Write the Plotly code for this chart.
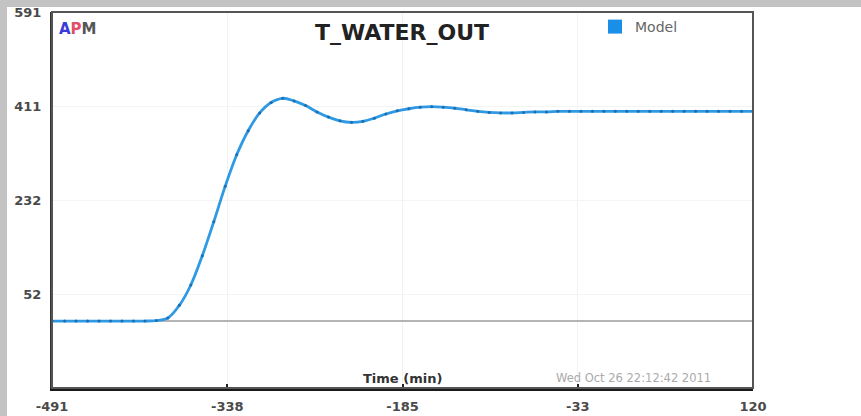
import plotly.graph_objects as go

# ---- data ----
time_min = [-491, -480, -470, -460, -450, -440, -430, -420, -410, -400,
            -390, -380, -370, -360, -350, -340, -330, -320, -310, -300,
            -290, -280, -270, -260, -250, -240, -230, -220, -210, -200,
            -190, -180, -170, -160, -150, -140, -130, -120, -110, -100,
            -90, -80, -70, -60, -50, -40, -30, -20, -10, 0,
            10, 20, 30, 40, 50, 60, 70, 80, 90, 100, 110, 120]
model = [0, 0, 0, 0, 0, 0, 0, 0, 0, 1,
         6, 30, 69, 125, 190, 258, 318, 364, 398, 418,
         426, 421, 412, 400, 390, 383, 380, 382, 388, 396,
         402, 406, 409, 410, 409, 407, 404, 401, 399, 398,
         398, 399, 400, 400, 401, 401, 401, 401, 401, 401,
         401, 401, 401, 401, 401, 401, 401, 401, 401, 401, 401, 401]

x_tickvals = [-491, -338.25, -185.5, -32.75, 120]
x_ticktext = ["-491", "-338", "-185", "-33", "120"]
y_tickvals = [51.75, 231.5, 411.25, 591]
y_ticktext = ["52", "232", "411", "591"]
x_range = [-491, 120]
y_range = [-128, 591]

title_text = "T_WATER_OUT"
series_name = "Model"
x_title = "Time (min)"
stamp = "Wed Oct 26 22:12:42 2011"

FONT = "DejaVu Sans, Verdana, sans-serif"
W, H = 861, 416
ML, MR, MT, MB = 52, 108, 12, 28
PW, PH = W - ML - MR, H - MT - MB


def px2x(px):
    return (px - ML) / PW


def py2y(py):
    return (H - MB - py) / PH


fig = go.Figure()
fig.add_trace(go.Scatter(
    x=time_min, y=model, mode="lines+markers", line_shape="spline",
    line=dict(color="#2e9ae4", width=2.8),
    marker=dict(size=3, color="#1f6cb0"),
    showlegend=False, hoverinfo="x+y"))
fig.add_trace(go.Scatter(
    x=[None], y=[None], mode="markers", name=series_name,
    marker=dict(symbol="square", size=14, color="#1a8fe8")))

tickfont = dict(size=13, color="#4a4a4a", family=FONT, weight="bold")

fig.update_layout(
    width=W, height=H,
    margin=dict(l=ML, r=MR, t=MT, b=MB, autoexpand=False),
    paper_bgcolor="white", plot_bgcolor="white",
    font=dict(family=FONT),
    title=dict(text="<b>" + title_text + "</b>", x=(402) / W,
               xanchor="center", y=1 - 32 / H, yanchor="middle",
               font=dict(size=22, color="#222", family=FONT)),
    showlegend=True,
    legend=dict(x=px2x(595), xanchor="left", y=py2y(27), yanchor="middle",
                bgcolor="rgba(0,0,0,0)", font=dict(size=14, color="#666", family=FONT),
                itemwidth=30),
    xaxis=dict(range=x_range, tickvals=x_tickvals, ticktext=x_ticktext,
               automargin=False,
               showline=True, linecolor="#1a1a1a", linewidth=3,
               ticks="inside", ticklen=4, tickwidth=1.5, tickcolor="#222",
               showgrid=True, gridcolor="#f2f2f2", zeroline=False,
               tickfont=tickfont, ticklabelstandoff=4),
    yaxis=dict(range=y_range, tickvals=y_tickvals, ticktext=y_ticktext,
               automargin=False,
               showline=True, linecolor="#333", linewidth=2,
               ticks="", showgrid=True, gridcolor="#f4f4f4",
               zeroline=True, zerolinecolor="#b4b4b4", zerolinewidth=1.6,
               tickfont=tickfont, ticklabelstandoff=6),
    shapes=[
        dict(type="rect", xref="paper", yref="paper", x0=0, x1=1, y0=0, y1=1,
             line=dict(color="#555", width=2), layer="above"),
        dict(type="rect", xref="paper", yref="paper",
             x0=px2x(0), x1=px2x(W), y0=py2y(7), y1=py2y(0),
             line=dict(width=0), fillcolor="#c3c3c3", layer="above"),
        dict(type="rect", xref="paper", yref="paper",
             x0=px2x(0), x1=px2x(7), y0=py2y(H), y1=py2y(0),
             line=dict(width=0), fillcolor="#c3c3c3", layer="above"),
    ],
    annotations=[
        dict(text="<b><span style='color:#3a3ad6'>A</span>"
                  "<span style='color:#e0506a'>P</span>"
                  "<span style='color:#555'>M</span></b>",
             xref="paper", yref="paper", x=px2x(57), y=py2y(29),
             xanchor="left", yanchor="middle", showarrow=False,
             font=dict(size=15, family=FONT)),
        dict(text="<b>" + x_title + "</b>", xref="paper", yref="paper",
             x=px2x(402), y=py2y(378), xanchor="center", yanchor="middle",
             showarrow=False, font=dict(size=13, color="#333", family=FONT)),
        dict(text=stamp, xref="paper", yref="paper",
             x=px2x(633), y=py2y(378), xanchor="center", yanchor="middle",
             showarrow=False, font=dict(size=11.5, color="#aaa", family=FONT)),
    ],
)

fig.write_html("out.html")
